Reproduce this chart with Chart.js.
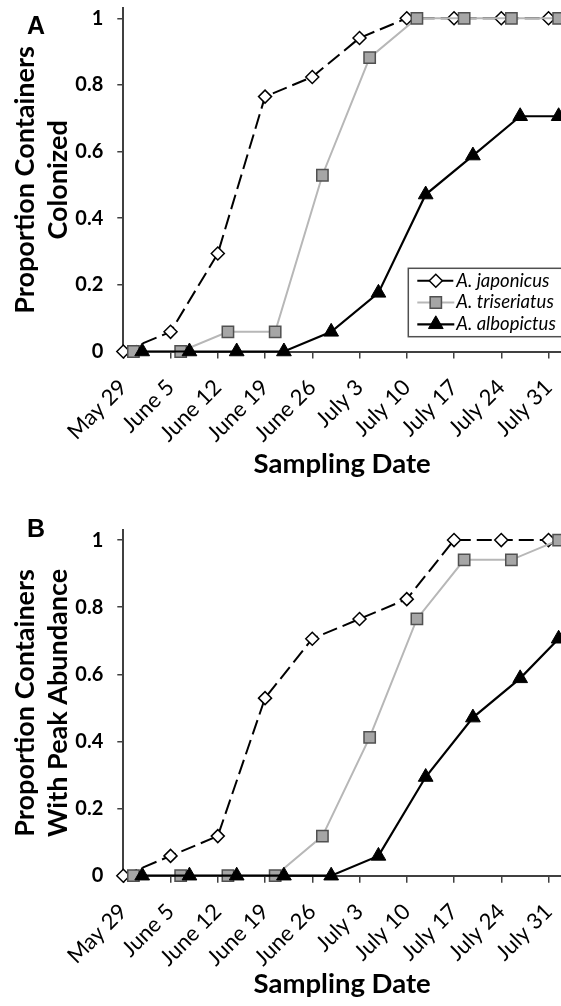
<!DOCTYPE html>
<html>
<head>
<meta charset="utf-8">
<title>Container colonization by Aedes species</title>
<script src="https://cdn.jsdelivr.net/npm/chart.js@4.4.1/dist/chart.umd.min.js"></script>
<style>
  html, body { margin: 0; padding: 0; background: #fff; overflow: hidden; }
  #wrap { position: relative; width: 561px; height: 1006px; }
  canvas { position: absolute; left: 0; }
  #chartA { top: 0; }
  #chartB { top: 500px; }
</style>
</head>
<body>
<div id="wrap">
  <canvas id="chartA" width="561" height="500"></canvas>
  <canvas id="chartB" width="561" height="506"></canvas>
</div>
<script>
// weekly sampling dates, x is days since May 29
var tickLabels = ['May 29', 'June 5', 'June 12', 'June 19', 'June 26', 'July 3', 'July 10', 'July 17', 'July 24', 'July 31'];

// species are nudged right of the sampling date so the markers stay readable
var japonicusDays   = [0, 7, 14, 21, 28, 35, 42, 49, 56, 63];
var triseriatusDays = [1.5, 8.5, 15.5, 22.5, 29.5, 36.5, 43.5, 50.5, 57.5, 64.5];
var albopictusDays  = [2.8, 9.8, 16.8, 23.8, 30.8, 37.8, 44.8, 51.8, 58.8, 64.5];

// A: proportion of containers colonized
var colonizedJaponicus   = [0, 0.059, 0.294, 0.765, 0.824, 0.941, 1, 1, 1, 1];
var colonizedTriseriatus = [0, 0, 0.059, 0.059, 0.529, 0.882, 1, 1, 1, 1];
var colonizedAlbopictus  = [0, 0, 0, 0, 0.059, 0.176, 0.471, 0.588, 0.706, 0.706];

// B: proportion of containers with peak abundance
var peakJaponicus   = [0, 0.059, 0.118, 0.529, 0.706, 0.765, 0.824, 1, 1, 1];
var peakTriseriatus = [0, 0, 0, 0, 0.118, 0.412, 0.765, 0.941, 0.941, 1];
var peakAlbopictus  = [0, 0, 0, 0, 0, 0.059, 0.294, 0.471, 0.588, 0.706];

Chart.defaults.font.family = 'Lato, "Open Sans", sans-serif';
Chart.defaults.color = '#000';

function points(days, values) {
    return days.map(function (d, i) { return { x: d, y: values[i] }; });
}

function makeDatasets(jap, tri, alb) {
    return [
        {
            label: 'A. japonicus',
            data: points(japonicusDays, jap),
            borderColor: '#000',
            borderWidth: 2,
            borderDash: [15, 6],
            pointStyle: 'rectRot',
            pointRadius: 6.5,
            pointBackgroundColor: '#fff',
            pointBorderColor: '#000',
            pointBorderWidth: 1.5,
            order: 3
        },
        {
            label: 'A. triseriatus',
            data: points(triseriatusDays, tri),
            borderColor: '#b7b7b7',
            borderWidth: 2,
            pointStyle: 'rect',
            pointRadius: 8,
            pointBackgroundColor: '#a6a6a6',
            pointBorderColor: '#505050',
            pointBorderWidth: 1.5,
            order: 2
        },
        {
            label: 'A. albopictus',
            data: points(albopictusDays, alb),
            borderColor: '#000',
            borderWidth: 2.2,
            pointStyle: 'triangle',
            pointRadius: 8.5,
            pointBackgroundColor: '#000',
            pointBorderColor: '#000',
            pointBorderWidth: 1,
            order: 1
        }
    ];
}

// panel letter and the boxed legend inside the plot
var panelDecor = {
    id: 'panelDecor',
    afterDraw: function (chart, args, opts) {
        var ctx = chart.ctx;
        ctx.save();
        ctx.fillStyle = '#000';
        ctx.font = 'bold 25px "Liberation Sans", Arial, sans-serif';
        ctx.textBaseline = 'alphabetic';
        ctx.textAlign = 'left';
        ctx.fillText(opts.tag, 27, opts.tagY);

        if (opts.legend) {
            var lg = opts.legend;
            ctx.lineWidth = 1.5;
            ctx.strokeStyle = '#505050';
            ctx.strokeRect(lg.left, lg.top, lg.width, lg.height);
            chart.data.datasets.forEach(function (ds, i) {
                var y = lg.top + lg.firstRow + i * lg.rowHeight;
                var x0 = lg.left + 9;
                var x1 = x0 + lg.sample;
                ctx.beginPath();
                ctx.setLineDash(ds.borderDash || []);
                ctx.strokeStyle = ds.borderColor;
                ctx.lineWidth = ds.borderWidth;
                ctx.moveTo(x0, y);
                ctx.lineTo(x1, y);
                ctx.stroke();
                ctx.setLineDash([]);
                ctx.fillStyle = ds.pointBackgroundColor;
                ctx.strokeStyle = ds.pointBorderColor;
                ctx.lineWidth = ds.pointBorderWidth;
                Chart.helpers.drawPoint(ctx, {
                    pointStyle: ds.pointStyle,
                    radius: ds.pointRadius,
                    borderWidth: ds.pointBorderWidth,
                    rotation: 0
                }, (x0 + x1) / 2, y);
                ctx.fillStyle = '#000';
                ctx.font = 'italic 18.5px Lato, sans-serif';
                ctx.textBaseline = 'middle';
                ctx.fillText(ds.label, x1 + 2, y);
            });
        }
        ctx.restore();
    }
};

function makeOptions(yTitle, top, axisHeight, titleGap, decor) {
    return {
        responsive: false,
        animation: false,
        devicePixelRatio: 1,
        layout: { autoPadding: false, padding: { top: top, left: 0, right: 0, bottom: 0 } },
        elements: { line: { tension: 0 } },
        datasets: { line: { clip: false } },
        plugins: {
            legend: { display: false },
            tooltip: { enabled: false },
            panelDecor: decor
        },
        scales: {
            x: {
                type: 'linear',
                min: 0,
                max: 64.85,
                border: { color: '#404040', width: 2 },
                grid: { drawOnChartArea: false, tickLength: 7, color: '#404040', lineWidth: 1.5 },
                ticks: {
                    stepSize: 7,
                    includeBounds: false,
                    autoSkip: false,
                    minRotation: 45,
                    maxRotation: 45,
                    padding: 16,
                    labelOffset: 0,
                    font: { size: 22 },
                    callback: function (v) { return tickLabels[Math.round(v / 7)]; }
                },
                title: {
                    display: true,
                    text: 'Sampling Date',
                    font: { size: 27.5, weight: 'bold' },
                    padding: { top: 0, bottom: titleGap }
                },
                afterFit: function (s) { s.height = axisHeight; s.paddingLeft = 0; s.paddingRight = 0; }
            },
            y: {
                min: 0,
                max: 1.03,
                border: { color: '#404040', width: 2 },
                grid: { drawOnChartArea: false, tickLength: 6, color: '#404040', lineWidth: 1.5 },
                ticks: {
                    stepSize: 0.2,
                    includeBounds: false,
                    padding: 14,
                    font: { size: 20, weight: 'bold' },
                    callback: function (v) { return String(+v.toFixed(1)); }
                },
                title: {
                    display: true,
                    text: yTitle,
                    font: { size: 27, weight: 'bold', lineHeight: 1.22 },
                    padding: { top: 9, bottom: 0 }
                },
                afterFit: function (s) { s.width = 123.3; s.paddingTop = 0; s.paddingBottom = 0; }
            }
        }
    };
}

new Chart(document.getElementById('chartA'), {
    type: 'line',
    data: { datasets: makeDatasets(colonizedJaponicus, colonizedTriseriatus, colonizedAlbopictus) },
    options: makeOptions(['Proportion Containers', 'Colonized'], 8.3, 148.5, 19, {
        tag: 'A',
        tagY: 34,
        legend: { left: 408.3, top: 268.3, width: 170, height: 68.4, firstRow: 12.4, rowHeight: 21.8, sample: 37 }
    }),
    plugins: [panelDecor]
});

new Chart(document.getElementById('chartB'), {
    type: 'line',
    data: { datasets: makeDatasets(peakJaponicus, peakTriseriatus, peakAlbopictus) },
    options: makeOptions(['Proportion Containers', 'With Peak Abundance'], 30, 130.3, 5, {
        tag: 'B',
        tagY: 36.7,
        legend: null
    }),
    plugins: [panelDecor]
});
</script>
</body>
</html>
